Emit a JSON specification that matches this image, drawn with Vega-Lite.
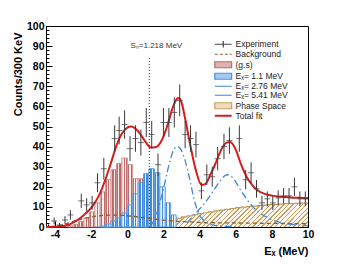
{
"$schema":"https://vega.github.io/schema/vega-lite/v6.json",
"width":262,"height":201,"autosize":"none",
"padding":{"left":46,"top":26,"right":47,"bottom":40},
"background":"white",
"config":{"view":{"stroke":"#000","strokeWidth":1},"font":"Liberation Sans"},
"datasets":{
"exp":[{"x":-4.05,"y":3,"e":1.7},{"x":-3.75,"y":1,"e":1},{"x":-3.45,"y":3.5,"e":1.9},{"x":-3.15,"y":6,"e":2.4},{"x":-2.55,"y":13,"e":3.6},{"x":-2.25,"y":11,"e":3.3},{"x":-1.95,"y":12,"e":3.5},{"x":-1.65,"y":22,"e":4.7},{"x":-1.3,"y":29,"e":5.4},{"x":-0.7,"y":44,"e":6.6},{"x":-0.45,"y":48,"e":6.9},{"x":-0.15,"y":51,"e":7.1},{"x":0.15,"y":39,"e":6.2},{"x":0.45,"y":44,"e":6.6},{"x":0.75,"y":42,"e":6.5},{"x":1.05,"y":52,"e":7.2},{"x":1.35,"y":46,"e":6.8},{"x":1.7,"y":31,"e":5.6},{"x":2.0,"y":52,"e":7.2},{"x":2.3,"y":52,"e":7.2},{"x":2.6,"y":57,"e":7.5},{"x":2.9,"y":63,"e":7.9},{"x":3.2,"y":46,"e":6.8},{"x":3.5,"y":44,"e":6.6},{"x":3.8,"y":41,"e":6.4},{"x":4.1,"y":18,"e":4.2},{"x":4.4,"y":26,"e":5.1},{"x":4.7,"y":25,"e":5},{"x":5.0,"y":34,"e":5.8},{"x":5.35,"y":40,"e":6.3},{"x":5.65,"y":43,"e":6.6},{"x":6.2,"y":44,"e":6.6},{"x":6.55,"y":23.5,"e":4.8},{"x":6.85,"y":27,"e":5.2},{"x":7.15,"y":19,"e":4.4},{"x":7.45,"y":12,"e":3.5},{"x":7.75,"y":14,"e":3.7},{"x":8.05,"y":12,"e":3.5},{"x":8.35,"y":14.5,"e":3.8},{"x":8.65,"y":15.5,"e":3.9},{"x":8.95,"y":15.5,"e":3.9},{"x":9.25,"y":20,"e":4.5},{"x":9.55,"y":14,"e":3.7},{"x":9.85,"y":14,"e":3.7}],
"gs":[{"x":-3.3,"x2":-3.0,"y":0.5},{"x":-3.0,"x2":-2.7,"y":1.2},{"x":-2.7,"x2":-2.4,"y":2.7},{"x":-2.4,"x2":-2.1,"y":4.5},{"x":-2.1,"x2":-1.8,"y":7.5},{"x":-1.8,"x2":-1.5,"y":12},{"x":-1.5,"x2":-1.2,"y":17.5},{"x":-1.2,"x2":-0.9,"y":23.5},{"x":-0.9,"x2":-0.6,"y":28.5},{"x":-0.6,"x2":-0.3,"y":31.5},{"x":-0.3,"x2":0,"y":34.3},{"x":0,"x2":0.3,"y":31},{"x":0.3,"x2":0.6,"y":24},{"x":0.6,"x2":0.9,"y":24},{"x":0.9,"x2":1.2,"y":16}],
"e11":[{"x":-1.5,"x2":-1.2,"y":0.5},{"x":-1.2,"x2":-0.9,"y":1.5},{"x":-0.9,"x2":-0.6,"y":3},{"x":-0.6,"x2":-0.3,"y":4.5},{"x":-0.3,"x2":0,"y":7},{"x":0,"x2":0.3,"y":11},{"x":0.3,"x2":0.6,"y":16.5},{"x":0.6,"x2":0.9,"y":22},{"x":0.9,"x2":1.2,"y":26.5},{"x":1.2,"x2":1.5,"y":29},{"x":1.5,"x2":1.8,"y":27},{"x":1.8,"x2":2.1,"y":20},{"x":2.1,"x2":2.4,"y":12},{"x":2.4,"x2":2.7,"y":6}],
"ps":[{"x":1.2,"y":0.5},{"x":1.5,"y":1.3},{"x":1.8,"y":2.4},{"x":2.1,"y":3.1},{"x":2.4,"y":3.8},{"x":2.7,"y":4.4},{"x":3.0,"y":5.0},{"x":3.3,"y":5.5},{"x":3.6,"y":6.1},{"x":3.9,"y":6.7},{"x":4.2,"y":7.1},{"x":4.5,"y":7.5},{"x":4.8,"y":8.0},{"x":5.1,"y":8.4},{"x":5.4,"y":8.8},{"x":5.7,"y":9.2},{"x":6.0,"y":9.6},{"x":6.3,"y":9.9},{"x":6.6,"y":10.2},{"x":6.9,"y":10.4},{"x":7.2,"y":10.7},{"x":7.5,"y":10.9},{"x":7.8,"y":11.1},{"x":8.1,"y":11.3},{"x":8.4,"y":11.4},{"x":8.7,"y":11.6},{"x":9.0,"y":11.7},{"x":9.3,"y":11.8},{"x":9.6,"y":11.9},{"x":10,"y":11.9}],
"bg":[{"x":-4.2,"y":0.2},{"x":-3.6,"y":1},{"x":-3.0,"y":2.8},{"x":-2.5,"y":4},{"x":-2.0,"y":5},{"x":-1.5,"y":5.6},{"x":-1.0,"y":5.9},{"x":-0.5,"y":5.9},{"x":0,"y":5.6},{"x":0.5,"y":5.1},{"x":1.0,"y":4.5},{"x":1.5,"y":3.9},{"x":2.0,"y":3.4},{"x":2.5,"y":3},{"x":3.0,"y":2.7},{"x":3.5,"y":2.5},{"x":4,"y":2.3},{"x":5,"y":2.1},{"x":6,"y":2},{"x":7,"y":1.9},{"x":8,"y":1.8},{"x":9,"y":1.7},{"x":10,"y":1.6}],
"c276":[{"x":1.25,"y":0},{"x":1.4,"y":2},{"x":1.6,"y":6},{"x":1.8,"y":12},{"x":2.0,"y":19},{"x":2.2,"y":27},{"x":2.4,"y":34},{"x":2.6,"y":39},{"x":2.8,"y":40},{"x":3.0,"y":38},{"x":3.2,"y":33},{"x":3.4,"y":26},{"x":3.5,"y":22},{"x":3.6,"y":17.5},{"x":3.8,"y":10.5},{"x":4.0,"y":6},{"x":4.2,"y":3.5},{"x":4.4,"y":2},{"x":4.7,"y":1},{"x":5.2,"y":0.5},{"x":6,"y":0.2}],
"c541":[{"x":3.3,"y":2},{"x":3.6,"y":5},{"x":3.9,"y":8},{"x":4.2,"y":11},{"x":4.5,"y":14.5},{"x":4.8,"y":18.5},{"x":5.1,"y":22.5},{"x":5.4,"y":25.5},{"x":5.55,"y":26},{"x":5.7,"y":25.5},{"x":6.0,"y":22.5},{"x":6.3,"y":18},{"x":6.6,"y":14},{"x":6.9,"y":10.5},{"x":7.2,"y":8},{"x":7.5,"y":6},{"x":7.8,"y":4.5},{"x":8.1,"y":3.3},{"x":8.5,"y":2.2},{"x":9.0,"y":1.4},{"x":9.5,"y":0.9},{"x":10,"y":0.6}],
"total":[{"x":-4.5,"y":0},{"x":-4.0,"y":0.1},{"x":-3.6,"y":0.4},{"x":-3.3,"y":1},{"x":-3.0,"y":2.2},{"x":-2.7,"y":3.8},{"x":-2.4,"y":6},{"x":-2.1,"y":8.5},{"x":-1.8,"y":12},{"x":-1.5,"y":17},{"x":-1.2,"y":24},{"x":-0.9,"y":32},{"x":-0.6,"y":40.5},{"x":-0.3,"y":46.5},{"x":0.0,"y":49.5},{"x":0.2,"y":50},{"x":0.4,"y":49.3},{"x":0.7,"y":46.5},{"x":1.0,"y":42.5},{"x":1.3,"y":39.5},{"x":1.6,"y":39.8},{"x":1.9,"y":43},{"x":2.2,"y":50},{"x":2.5,"y":59},{"x":2.75,"y":63.8},{"x":2.85,"y":64.2},{"x":3.0,"y":62},{"x":3.2,"y":54},{"x":3.5,"y":40},{"x":3.8,"y":28},{"x":4.1,"y":21},{"x":4.3,"y":21.3},{"x":4.6,"y":26},{"x":4.9,"y":32},{"x":5.2,"y":38.5},{"x":5.5,"y":42},{"x":5.7,"y":42.3},{"x":6.0,"y":38.5},{"x":6.3,"y":31},{"x":6.6,"y":25},{"x":6.9,"y":21},{"x":7.2,"y":18.3},{"x":7.6,"y":16.5},{"x":8.0,"y":15.6},{"x":8.5,"y":15},{"x":9,"y":14.7},{"x":9.5,"y":14.5},{"x":10,"y":14.3}],
"sn":[{"x":1.218,"y":85,"label":"Sₙ=1.218 MeV"}]
},
"encoding":{
"x":{"field":"x","type":"quantitative","scale":{"domain":[-4.5,10],"nice":false,"zero":false},
 "axis":{"title":"Eₓ (MeV)","values":[-4.4,-4,-3.6,-3.2,-2.8,-2.4,-2,-1.6,-1.2,-0.8,-0.4,0,0.4,0.8,1.2,1.6,2,2.4,2.8,3.2,3.6,4,4.4,4.8,5.2,5.6,6,6.4,6.8,7.2,7.6,8,8.4,8.8,9.2,9.6,10],
 "labelExpr":"abs(datum.value % 2) < 0.001 ? toString(round(datum.value)) : ''",
 "tickSize":{"condition":{"test":"abs(datum.value % 2) < 0.001","value":-6},"value":-3},
 "grid":false,"labelFont":"Liberation Sans","labelFontWeight":"bold","labelFontSize":10.5,"labelColor":"#000","labelPadding":8,"labelOverlap":false,"labelFlush":false,
 "titleFont":"Liberation Sans","titleFontWeight":"bold","titleFontSize":11,"titleColor":"#000","titleAnchor":"end","titlePadding":3,"domainColor":"#000","tickColor":"#000"}},
"y":{"field":"y","type":"quantitative","scale":{"domain":[0,100],"nice":false},
 "axis":{"title":"Counts/300 KeV","values":[0,2,4,6,8,10,12,14,16,18,20,22,24,26,28,30,32,34,36,38,40,42,44,46,48,50,52,54,56,58,60,62,64,66,68,70,72,74,76,78,80,82,84,86,88,90,92,94,96,98,100],
 "labelExpr":"datum.value % 10 === 0 ? datum.label : ''",
 "tickSize":{"condition":{"test":"datum.value % 10 === 0","value":-6},"value":-3},
 "grid":false,"labelFont":"Liberation Sans","labelFontWeight":"bold","labelFontSize":10.5,"labelColor":"#000","labelPadding":8,"labelOverlap":false,"labelFlush":false,
 "titleFont":"Liberation Sans","titleFontWeight":"bold","titleFontSize":11,"titleColor":"#000","titleAnchor":"end","titleX":-23,"titleY":6,"domainColor":"#000","tickColor":"#000"}}
},
"layer":[
{"data":{"name":"ps"},"mark":{"type":"area","interpolate":"step-after","fill":{"gradient":"linear","x1":0,"y1":0,"x2":1.124,"y2":0.169,"stops":[
{"offset":0,"color":"#fdf9f2"},{"offset":0.0175,"color":"#fdf9f2"},{"offset":0.0175,"color":"#c8a064"},{"offset":0.025,"color":"#c8a064"},
{"offset":0.025,"color":"#fdf9f2"},{"offset":0.0425,"color":"#fdf9f2"},{"offset":0.0425,"color":"#c8a064"},{"offset":0.05,"color":"#c8a064"},
{"offset":0.05,"color":"#fdf9f2"},{"offset":0.0675,"color":"#fdf9f2"},{"offset":0.0675,"color":"#c8a064"},{"offset":0.075,"color":"#c8a064"},
{"offset":0.075,"color":"#fdf9f2"},{"offset":0.0925,"color":"#fdf9f2"},{"offset":0.0925,"color":"#c8a064"},{"offset":0.1,"color":"#c8a064"},
{"offset":0.1,"color":"#fdf9f2"},{"offset":0.1175,"color":"#fdf9f2"},{"offset":0.1175,"color":"#c8a064"},{"offset":0.125,"color":"#c8a064"},
{"offset":0.125,"color":"#fdf9f2"},{"offset":0.1425,"color":"#fdf9f2"},{"offset":0.1425,"color":"#c8a064"},{"offset":0.15,"color":"#c8a064"},
{"offset":0.15,"color":"#fdf9f2"},{"offset":0.1675,"color":"#fdf9f2"},{"offset":0.1675,"color":"#c8a064"},{"offset":0.175,"color":"#c8a064"},
{"offset":0.175,"color":"#fdf9f2"},{"offset":0.1925,"color":"#fdf9f2"},{"offset":0.1925,"color":"#c8a064"},{"offset":0.2,"color":"#c8a064"},
{"offset":0.2,"color":"#fdf9f2"},{"offset":0.2175,"color":"#fdf9f2"},{"offset":0.2175,"color":"#c8a064"},{"offset":0.225,"color":"#c8a064"},
{"offset":0.225,"color":"#fdf9f2"},{"offset":0.2425,"color":"#fdf9f2"},{"offset":0.2425,"color":"#c8a064"},{"offset":0.25,"color":"#c8a064"},
{"offset":0.25,"color":"#fdf9f2"},{"offset":0.2675,"color":"#fdf9f2"},{"offset":0.2675,"color":"#c8a064"},{"offset":0.275,"color":"#c8a064"},
{"offset":0.275,"color":"#fdf9f2"},{"offset":0.2925,"color":"#fdf9f2"},{"offset":0.2925,"color":"#c8a064"},{"offset":0.3,"color":"#c8a064"},
{"offset":0.3,"color":"#fdf9f2"},{"offset":0.3175,"color":"#fdf9f2"},{"offset":0.3175,"color":"#c8a064"},{"offset":0.325,"color":"#c8a064"},
{"offset":0.325,"color":"#fdf9f2"},{"offset":0.3425,"color":"#fdf9f2"},{"offset":0.3425,"color":"#c8a064"},{"offset":0.35,"color":"#c8a064"},
{"offset":0.35,"color":"#fdf9f2"},{"offset":0.3675,"color":"#fdf9f2"},{"offset":0.3675,"color":"#c8a064"},{"offset":0.375,"color":"#c8a064"},
{"offset":0.375,"color":"#fdf9f2"},{"offset":0.3925,"color":"#fdf9f2"},{"offset":0.3925,"color":"#c8a064"},{"offset":0.4,"color":"#c8a064"},
{"offset":0.4,"color":"#fdf9f2"},{"offset":0.4175,"color":"#fdf9f2"},{"offset":0.4175,"color":"#c8a064"},{"offset":0.425,"color":"#c8a064"},
{"offset":0.425,"color":"#fdf9f2"},{"offset":0.4425,"color":"#fdf9f2"},{"offset":0.4425,"color":"#c8a064"},{"offset":0.45,"color":"#c8a064"},
{"offset":0.45,"color":"#fdf9f2"},{"offset":0.4675,"color":"#fdf9f2"},{"offset":0.4675,"color":"#c8a064"},{"offset":0.475,"color":"#c8a064"},
{"offset":0.475,"color":"#fdf9f2"},{"offset":0.4925,"color":"#fdf9f2"},{"offset":0.4925,"color":"#c8a064"},{"offset":0.5,"color":"#c8a064"},
{"offset":0.5,"color":"#fdf9f2"},{"offset":0.5175,"color":"#fdf9f2"},{"offset":0.5175,"color":"#c8a064"},{"offset":0.525,"color":"#c8a064"},
{"offset":0.525,"color":"#fdf9f2"},{"offset":0.5425,"color":"#fdf9f2"},{"offset":0.5425,"color":"#c8a064"},{"offset":0.55,"color":"#c8a064"},
{"offset":0.55,"color":"#fdf9f2"},{"offset":0.5675,"color":"#fdf9f2"},{"offset":0.5675,"color":"#c8a064"},{"offset":0.575,"color":"#c8a064"},
{"offset":0.575,"color":"#fdf9f2"},{"offset":0.5925,"color":"#fdf9f2"},{"offset":0.5925,"color":"#c8a064"},{"offset":0.6,"color":"#c8a064"},
{"offset":0.6,"color":"#fdf9f2"},{"offset":0.6175,"color":"#fdf9f2"},{"offset":0.6175,"color":"#c8a064"},{"offset":0.625,"color":"#c8a064"},
{"offset":0.625,"color":"#fdf9f2"},{"offset":0.6425,"color":"#fdf9f2"},{"offset":0.6425,"color":"#c8a064"},{"offset":0.65,"color":"#c8a064"},
{"offset":0.65,"color":"#fdf9f2"},{"offset":0.6675,"color":"#fdf9f2"},{"offset":0.6675,"color":"#c8a064"},{"offset":0.675,"color":"#c8a064"},
{"offset":0.675,"color":"#fdf9f2"},{"offset":0.6925,"color":"#fdf9f2"},{"offset":0.6925,"color":"#c8a064"},{"offset":0.7,"color":"#c8a064"},
{"offset":0.7,"color":"#fdf9f2"},{"offset":0.7175,"color":"#fdf9f2"},{"offset":0.7175,"color":"#c8a064"},{"offset":0.725,"color":"#c8a064"},
{"offset":0.725,"color":"#fdf9f2"},{"offset":0.7425,"color":"#fdf9f2"},{"offset":0.7425,"color":"#c8a064"},{"offset":0.75,"color":"#c8a064"},
{"offset":0.75,"color":"#fdf9f2"},{"offset":0.7675,"color":"#fdf9f2"},{"offset":0.7675,"color":"#c8a064"},{"offset":0.775,"color":"#c8a064"},
{"offset":0.775,"color":"#fdf9f2"},{"offset":0.7925,"color":"#fdf9f2"},{"offset":0.7925,"color":"#c8a064"},{"offset":0.8,"color":"#c8a064"},
{"offset":0.8,"color":"#fdf9f2"},{"offset":0.8175,"color":"#fdf9f2"},{"offset":0.8175,"color":"#c8a064"},{"offset":0.825,"color":"#c8a064"},
{"offset":0.825,"color":"#fdf9f2"},{"offset":0.8425,"color":"#fdf9f2"},{"offset":0.8425,"color":"#c8a064"},{"offset":0.85,"color":"#c8a064"},
{"offset":0.85,"color":"#fdf9f2"},{"offset":0.8675,"color":"#fdf9f2"},{"offset":0.8675,"color":"#c8a064"},{"offset":0.875,"color":"#c8a064"},
{"offset":0.875,"color":"#fdf9f2"},{"offset":0.8925,"color":"#fdf9f2"},{"offset":0.8925,"color":"#c8a064"},{"offset":0.9,"color":"#c8a064"},
{"offset":0.9,"color":"#fdf9f2"},{"offset":0.9175,"color":"#fdf9f2"},{"offset":0.9175,"color":"#c8a064"},{"offset":0.925,"color":"#c8a064"},
{"offset":0.925,"color":"#fdf9f2"},{"offset":0.9425,"color":"#fdf9f2"},{"offset":0.9425,"color":"#c8a064"},{"offset":0.95,"color":"#c8a064"},
{"offset":0.95,"color":"#fdf9f2"},{"offset":0.9675,"color":"#fdf9f2"},{"offset":0.9675,"color":"#c8a064"},{"offset":0.975,"color":"#c8a064"},
{"offset":0.975,"color":"#fdf9f2"},{"offset":0.9925,"color":"#fdf9f2"},{"offset":0.9925,"color":"#c8a064"},{"offset":1,"color":"#c8a064"}]}}},
{"data":{"name":"ps"},"mark":{"type":"line","interpolate":"step-after","stroke":"#c49a58","strokeWidth":1.2}},
{"data":{"name":"gs"},"mark":{"type":"bar","stroke":"#c89090","strokeWidth":1,"fill":{"gradient":"linear","x1":0,"y1":0,"x2":1,"y2":0,"stops":[{"offset":0,"color":"#fbf0f0"},{"offset":0.14,"color":"#fbf0f0"},{"offset":0.14,"color":"#bd6a6a"},{"offset":0.28,"color":"#bd6a6a"},{"offset":0.28,"color":"#fbf0f0"},{"offset":0.43,"color":"#fbf0f0"},{"offset":0.43,"color":"#bd6a6a"},{"offset":0.57,"color":"#bd6a6a"},{"offset":0.57,"color":"#fbf0f0"},{"offset":0.72,"color":"#fbf0f0"},{"offset":0.72,"color":"#bd6a6a"},{"offset":0.86,"color":"#bd6a6a"},{"offset":0.86,"color":"#fbf0f0"},{"offset":1,"color":"#fbf0f0"}]}},
 "encoding":{"x2":{"field":"x2"},"y2":{"datum":0}}},
{"data":{"name":"e11"},"mark":{"type":"bar","stroke":"#5c9de2","strokeWidth":1,"fill":{"gradient":"linear","x1":0,"y1":0,"x2":1,"y2":0,"stops":[{"offset":0,"color":"#edf4fd"},{"offset":0.14,"color":"#edf4fd"},{"offset":0.14,"color":"#4089da"},{"offset":0.28,"color":"#4089da"},{"offset":0.28,"color":"#edf4fd"},{"offset":0.43,"color":"#edf4fd"},{"offset":0.43,"color":"#4089da"},{"offset":0.57,"color":"#4089da"},{"offset":0.57,"color":"#edf4fd"},{"offset":0.72,"color":"#edf4fd"},{"offset":0.72,"color":"#4089da"},{"offset":0.86,"color":"#4089da"},{"offset":0.86,"color":"#edf4fd"},{"offset":1,"color":"#edf4fd"}]}},
 "encoding":{"x2":{"field":"x2"},"y2":{"datum":0}}},
{"data":{"name":"bg"},"mark":{"type":"line","interpolate":"monotone","stroke":"#8b5a2b","strokeWidth":1.3,"strokeDash":[4,3]}},
{"data":{"name":"c276"},"mark":{"type":"line","interpolate":"monotone","stroke":"#3f86d6","strokeWidth":1.3,"strokeDash":[7,3,1.5,3]}},
{"data":{"name":"c541"},"mark":{"type":"line","interpolate":"monotone","stroke":"#3f86d6","strokeWidth":1.3,"strokeDash":[7,3,1.5,3]}},
{"data":{"name":"total"},"mark":{"type":"line","interpolate":"monotone","strokeWidth":2},
 "encoding":{"color":{"datum":"Total fit","type":"nominal",
  "scale":{"domain":["Experiment","Background","(g.s)","Eₓ= 1.1 MeV","Eₓ= 2.76 MeV","Eₓ= 5.41 MeV","Phase Space","Total fit"],"range":["#444444","#8b5a2b","#b86a6a","#4a90dc","#3f86d6","#3f86d6","#c9a060","#d41c1c"]},
  "legend":{"title":null,"orient":"none","legendX":173,"legendY":14,"padding":0,"symbolSize":64,"labelFont":"Liberation Sans","labelFontSize":8.5,"labelColor":"#222","rowPadding":-0.5,"labelOffset":8,"labelLimit":0,
   "encode":{"symbols":{"update":{
    "shape":{"signal":"datum.value==='Experiment' ? 'M-2.1,0H2.1M0,-0.8V0.8' : (datum.value==='(g.s)' || datum.value==='Eₓ= 1.1 MeV' || datum.value==='Phase Space') ? 'M-2.1,-0.75H2.1V0.75H-2.1Z' : 'M-2.1,0H2.1'"},
    "fill":{"signal":"datum.value==='(g.s)' ? '#dfb3b3' : datum.value==='Eₓ= 1.1 MeV' ? '#a7c8ef' : datum.value==='Phase Space' ? '#efdcb8' : 'transparent'"},
    "stroke":{"signal":"scale('color', datum.value)"},
    "strokeDash":{"signal":"datum.value==='Background' ? [3,2] : [1,0]"},
    "strokeWidth":{"signal":"datum.value==='Total fit' ? 2 : 1.2"},
    "opacity":{"value":1}}}}}}}},
{"data":{"name":"exp"},"mark":{"type":"errorbar","color":"#3a3a3a","thickness":1},"encoding":{"yError":{"field":"e"}}},
{"data":{"name":"exp"},"mark":{"type":"tick","orient":"horizontal","size":6,"thickness":1,"color":"#3a3a3a"}},
{"data":{"name":"sn"},"mark":{"type":"rule","strokeDash":[1,2],"color":"#333","strokeWidth":1},"encoding":{"y":{"datum":0,"type":"quantitative"},"y2":{"field":"y"}}},
{"data":{"name":"sn"},"mark":{"type":"text","dx":7,"dy":-10,"fontSize":8,"color":"#333","font":"Liberation Sans"},"encoding":{"text":{"field":"label"}}}
]
}
